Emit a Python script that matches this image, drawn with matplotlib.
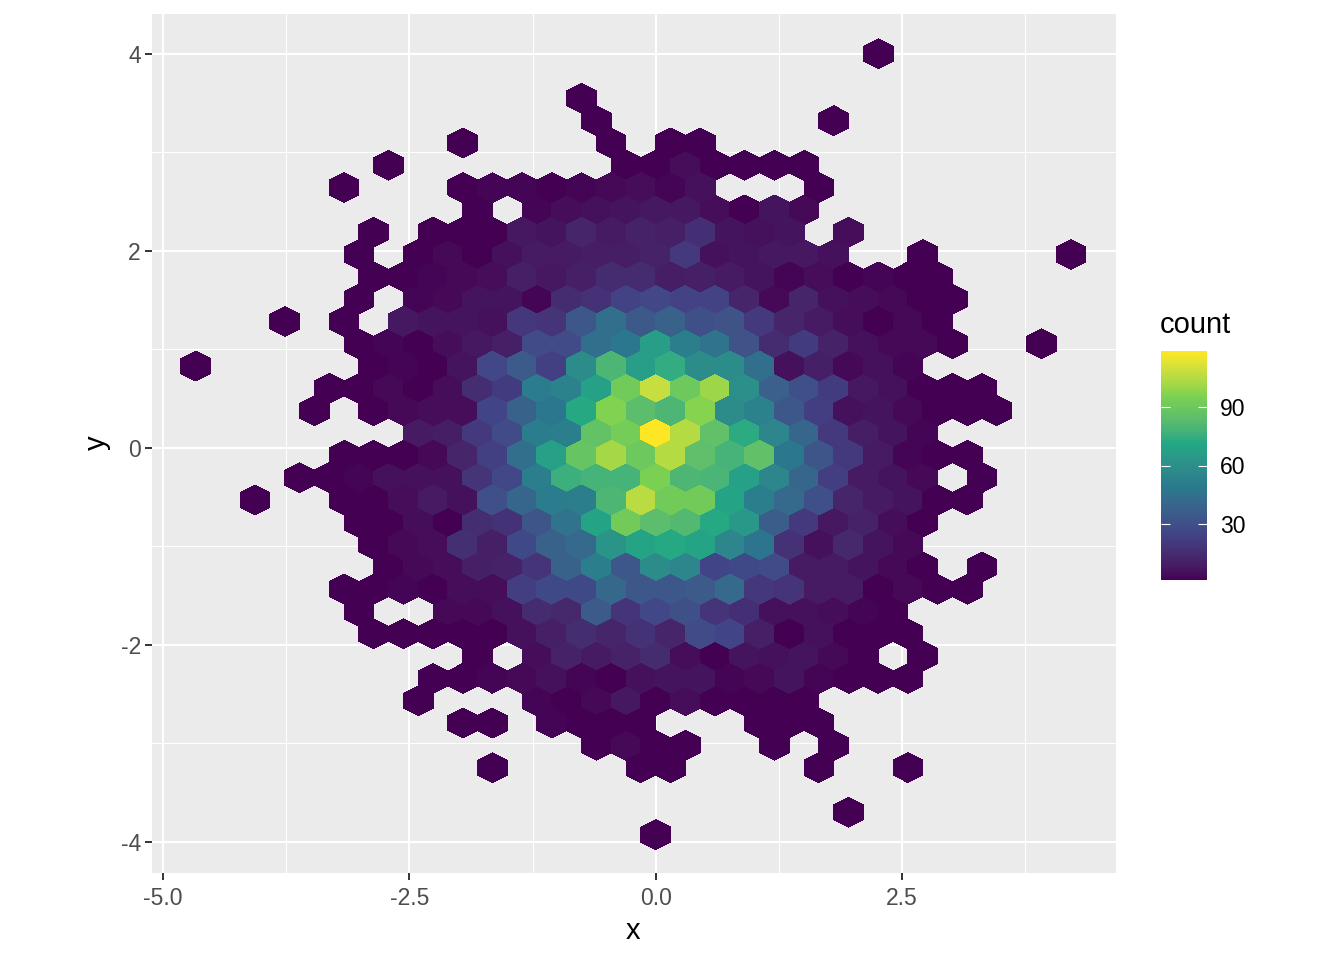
import numpy as np
import matplotlib
matplotlib.use('Agg')
import matplotlib.pyplot as plt
from matplotlib.colors import ListedColormap, to_rgb

plt.rcParams['font.family'] = ['Liberation Sans', 'DejaVu Sans']
plt.rcParams['axes.unicode_minus'] = False

# hex lattice
dx = 0.3012
dy = 0.2265
y0 = 0.152

# row number (0 = row of the brightest hex), first column of the row, counts by column
row_index = [17, 15, 14, 13, 12, 11, 10, 9, 8, 7, 6, 5, 4, 3, 2, 1, 0,
             -1, -2, -3, -4, -5, -6, -7, -8, -9, -10, -11, -12, -13, -14, -15, -17, -18]
row_start = [7, -3, -2, -7, -9, -11, -6, -10, -10, -10, -10, -13, -10, -16, -11, -12, -8,
             -11, -12, -14, -10, -10, -9, -11, -10, -10, -6, -8, -8, -7, -2, -6, 6, 0]
row_counts = [
    [1],
    [1],
    [1, 0, 0, 0, 0, 0, 0, 0, 1],
    [1, 0, 0, 0, 0, 1, 0, 1, 1],
    [1, 0, 0, 0, 0, 0, 0, 0, 1, 1, 4, 1, 1, 1, 1],
    [1, 0, 0, 0, 1, 2, 2, 1, 2, 3, 4, 2, 5, 0, 0, 0, 1],
    [1, 0, 2, 4, 5, 6, 7, 7, 4, 1, 6, 3],
    [1, 0, 1, 1, 1, 7, 6, 12, 8, 11, 10, 16, 6, 5, 6, 0, 4],
    [1, 0, 1, 3, 1, 5, 8, 8, 9, 9, 11, 20, 5, 6, 7, 7, 5, 0, 0, 1, 0, 0, 0, 0, 1],
    [1, 1, 2, 3, 4, 10, 7, 10, 14, 14, 9, 10, 8, 6, 2, 4, 1, 2, 1, 1],
    [1, 0, 2, 3, 6, 6, 2, 14, 17, 24, 26, 24, 24, 12, 3, 12, 5, 4, 3, 1, 1],
    [1, 0, 1, 0, 7, 6, 6, 5, 19, 18, 33, 44, 34, 38, 30, 31, 20, 12, 8, 4, 1, 3, 1],
    [1, 2, 1, 4, 7, 10, 28, 28, 44, 48, 66, 52, 46, 31, 14, 21, 11, 5, 3, 3, 1, 0, 0, 1],
    [1, 0, 0, 0, 0, 0, 1, 2, 1, 6, 26, 35, 23, 58, 80, 66, 74, 58, 58, 44, 5, 10, 3, 5, 2],
    [1, 1, 3, 1, 4, 15, 21, 50, 53, 68, 92, 108, 90, 101, 60, 37, 30, 21, 7, 5, 1, 1, 1],
    [1, 0, 1, 3, 4, 4, 25, 38, 48, 72, 96, 84, 80, 97, 58, 53, 33, 22, 5, 6, 3, 1, 1, 1],
    [8, 9, 20, 28, 50, 52, 87, 93, 119, 105, 86, 73, 55, 40, 20, 9, 6, 2],
    [1, 1, 1, 3, 12, 23, 44, 68, 88, 102, 90, 105, 85, 78, 86, 48, 32, 20, 8, 2, 1, 1],
    [1, 1, 2, 5, 5, 5, 18, 26, 52, 76, 78, 78, 95, 80, 79, 68, 55, 40, 22, 8, 6, 3, 0, 1],
    [1, 0, 0, 1, 1, 4, 8, 5, 30, 40, 50, 52, 80, 106, 92, 92, 70, 52, 42, 30, 12, 8, 6, 1, 1],
    [1, 1, 4, 1, 15, 17, 32, 46, 70, 92, 84, 82, 72, 64, 36, 20, 7, 11, 4, 1],
    [1, 3, 4, 16, 10, 27, 38, 42, 62, 70, 72, 70, 55, 47, 17, 5, 13, 6, 3],
    [1, 3, 4, 10, 11, 18, 38, 52, 33, 58, 55, 25, 27, 28, 8, 8, 6, 3, 1, 0, 1],
    [1, 1, 2, 1, 4, 4, 22, 27, 27, 41, 33, 33, 35, 42, 19, 18, 8, 8, 1, 3, 1, 1],
    [1, 0, 0, 3, 3, 5, 14, 13, 35, 18, 26, 30, 18, 16, 5, 5, 4, 2, 1],
    [1, 1, 1, 1, 1, 5, 10, 15, 12, 17, 12, 28, 25, 10, 1, 5, 1, 1, 1],
    [1, 0, 4, 11, 8, 11, 14, 4, 1, 6, 5, 6, 3, 1, 0, 1],
    [1, 1, 2, 3, 5, 2, 1, 5, 6, 6, 2, 3, 6, 2, 1, 1, 1],
    [1, 0, 0, 0, 2, 1, 3, 7, 1, 4, 1, 1, 1, 1],
    [1, 1, 0, 2, 1, 1, 1, 0, 0, 0, 1, 1, 1],
    [1, 3, 1, 1, 0, 0, 1, 0, 1],
    [1, 0, 0, 0, 0, 1, 1, 0, 0, 0, 0, 1, 0, 0, 1],
    [1],
    [1],
]

x_major = [-5.0, -2.5, 0.0, 2.5]
x_minor = [-3.75, -1.25, 1.25, 3.75]
y_major = [-4, -2, 0, 2, 4]
y_minor = [-3, -1, 1, 3]
legend_ticks = [30, 60, 90]
palette = ['#440154', '#414487', '#2A788E', '#22A884', '#7AD151', '#FDE725']

# the colour bar blends its stops in Lab, not in RGB
M = np.array([[0.4124, 0.3576, 0.1805], [0.2126, 0.7152, 0.0722], [0.0193, 0.1192, 0.9505]])
white = np.array([0.9505, 1.0, 1.089])

def rgb_to_lab(rgb):
    rgb = np.asarray(rgb)
    lin = np.where(rgb > 0.04045, ((rgb + 0.055) / 1.055) ** 2.4, rgb / 12.92)
    t = (lin @ M.T) / white
    f = np.where(t > 0.008856, np.cbrt(t), 7.787 * t + 16 / 116)
    return np.stack([116 * f[..., 1] - 16, 500 * (f[..., 0] - f[..., 1]), 200 * (f[..., 1] - f[..., 2])], axis=-1)

def lab_to_rgb(lab):
    fy = (lab[..., 0] + 16) / 116
    f = np.stack([fy + lab[..., 1] / 500, fy, fy - lab[..., 2] / 200], axis=-1)
    t = np.where(f ** 3 > 0.008856, f ** 3, (f - 16 / 116) / 7.787)
    lin = (t * white) @ np.linalg.inv(M).T
    lin = np.clip(lin, 0, 1)
    return np.clip(np.where(lin > 0.0031308, 1.055 * lin ** (1 / 2.4) - 0.055, 12.92 * lin), 0, 1)

stops = rgb_to_lab([to_rgb(c) for c in palette])
pos = np.linspace(0, 1, 256)
lab = np.stack([np.interp(pos, np.linspace(0, 1, len(palette)), stops[:, k]) for k in range(3)], axis=-1)
cmap = ListedColormap(lab_to_rgb(lab))

x, y, count = [], [], []
for r, start, counts in zip(row_index, row_start, row_counts):
    shift = 0.5 if r % 2 else 0.0
    for i, c in enumerate(counts):
        if c > 0:
            x.append((start + i + shift) * dx)
            y.append(y0 + r * dy)
            count.append(c)

W, H = 1344, 960
fig = plt.figure(figsize=(W / 100, H / 100), dpi=100)
ax = fig.add_axes([152 / W, 1 - 873 / H, (1116 - 152) / W, (873 - 14) / H])
ax.set_facecolor('#EBEBEB')

hb = ax.hexbin(x, y, C=count, reduce_C_function=np.sum, gridsize=(40, 20),
               extent=(-20 * dx, 20 * dx, y0 - 20 * dy, y0 + 20 * dy),
               cmap=cmap, vmin=1, vmax=119, linewidths=0, edgecolors='none', zorder=3)
hb.set_antialiased(False)

ax.set_xlim(-5.112, 4.672)
ax.set_ylim(-4.315, 4.406)
ax.set_xticks(x_major)
ax.set_xticklabels(['-5.0', '-2.5', '0.0', '2.5'])
ax.set_yticks(y_major)
ax.set_xticks(x_minor, minor=True)
ax.set_yticks(y_minor, minor=True)
ax.grid(which='major', color='white', linewidth=1.5, zorder=1)
ax.grid(which='minor', color='white', linewidth=0.75, zorder=1)
ax.set_axisbelow(True)
for s in ax.spines.values():
    s.set_visible(False)
ax.tick_params(which='major', length=5, width=1.4, color='#333333', labelcolor='#4D4D4D',
               labelsize=16.5, pad=3)
ax.tick_params(axis='x', which='major', pad=5)
ax.tick_params(which='minor', length=0)

fig.text(633 / W, 1 - 931 / H, 'x', fontsize=21, ha='center', va='center')
fig.text(97 / W, 1 - 443 / H, 'y', fontsize=21, ha='center', va='center', rotation=90)

cax = fig.add_axes([1161 / W, 1 - 580 / H, (1207 - 1161) / W, (580 - 351) / H])
cb = fig.colorbar(hb, cax=cax, ticks=legend_ticks)
cb.outline.set_visible(False)
cb.minorticks_off()
cax.tick_params(axis='y', left=True, right=True, direction='in', length=6.5, width=0.8,
                color='white', labelsize=16.5, labelcolor='black', pad=9.5)
fig.text(1160 / W, 1 - 325 / H, 'count', fontsize=21, ha='left', va='center')

fig.savefig('out.png', dpi=100)
plt.close()
